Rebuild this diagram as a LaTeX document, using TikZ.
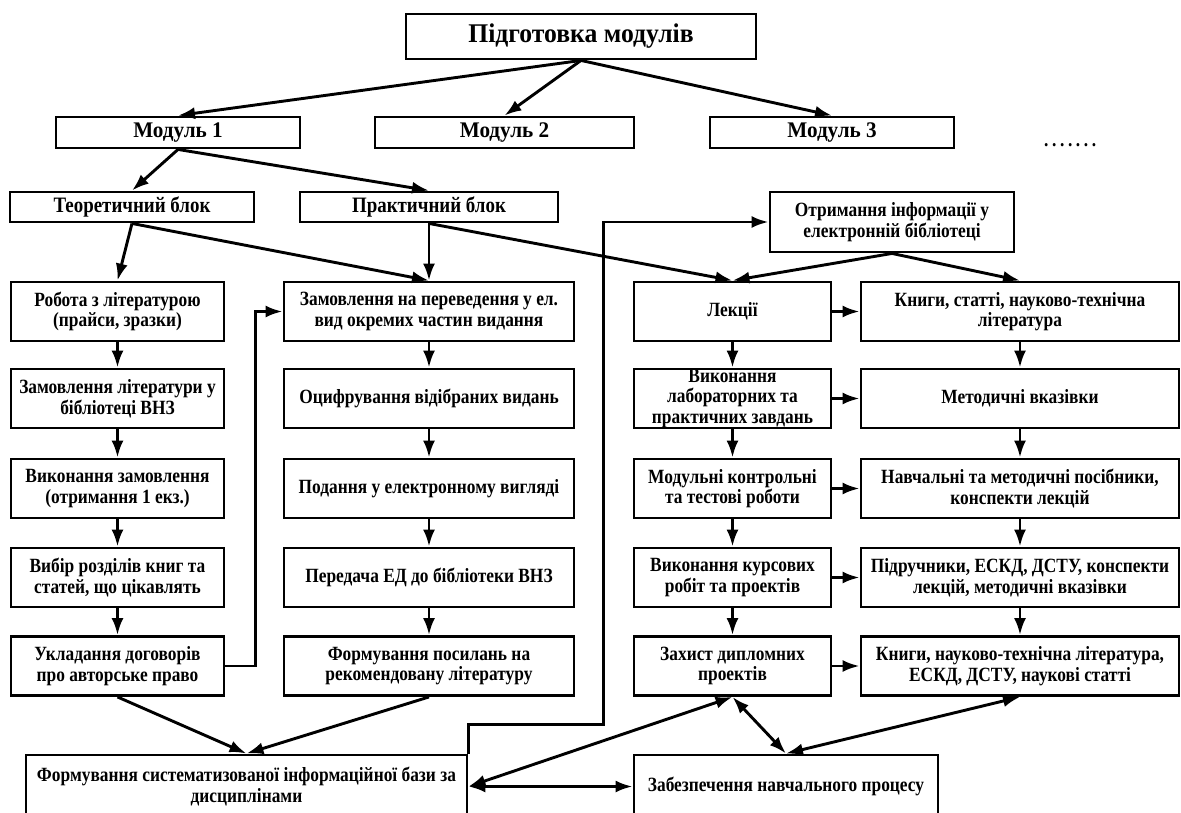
\documentclass[tikz,border=0pt]{standalone}
\usepackage{fontspec}
\setmainfont{Liberation Serif}
\newfontfamily\tallserif{Liberation Serif}[FakeStretch=0.86]
\newfontfamily\wideserif{Liberation Serif}[FakeStretch=0.95]
\usetikzlibrary{arrows.meta}
\usetikzlibrary{calc}

\def\thickness{2.9pt}
\tikzstyle{heavy}=[line width=\thickness]
\newcommand\boxfont{\tallserif\bfseries\fontsize{20.2pt}{20.5pt}\selectfont}
\newcommand\headfont{\wideserif\bfseries\fontsize{27pt}{30pt}\selectfont}
\newcommand\modfont{\wideserif\bfseries\fontsize{22.3pt}{24pt}\selectfont}
\newcommand\blockfont{\tallserif\bfseries\fontsize{22pt}{24pt}\selectfont}
\tikzset{box/.style={draw, heavy, align=center, inner sep=0pt,
    minimum height=59pt, font=\boxfont}}
\tikzset{arr/.style={heavy, -{Latex[length=17pt,width=12pt]}}}
\tikzset{darr/.style={heavy, {Latex[length=17pt,width=12pt]}-{Latex[length=17pt,width=12pt]}}}

\begin{document}
\begin{tikzpicture}[x=1pt,y=-1pt]

\def\xL{117.5} %% column centres
\def\xM{429}
\def\xR{732.5}
\def\xB{1020}
\def\yA{311.5} %% row centres
\def\yB{398.5}
\def\yC{488.5}
\def\yD{577.5}
\def\yE{666}

\path[use as bounding box] (0,0) rectangle (1181,813);

%% top levels
\node[box, minimum width=350pt, minimum height=45pt, font=\headfont] (prep) at (581,36.5) {Підготовка модулів};
\node[box, minimum width=244pt, minimum height=31pt, font=\modfont] (mod1) at (178,132.5) {Модуль 1};
\node[box, minimum width=259pt, minimum height=31pt, font=\modfont] (mod2) at (504.5,132.5) {Модуль 2};
\node[box, minimum width=244pt, minimum height=31pt, font=\modfont] (mod3) at (832,132.5) {Модуль 3};
\node[anchor=base west, inner sep=0pt, font=\boxfont] (more) at (1044,147) {.\kern3.6pt.\kern3.6pt.\kern3.6pt.\kern3.6pt.\kern3.6pt.\kern3.6pt.};

\node[box, minimum width=244pt, minimum height=30pt, font=\blockfont] (theor) at (132,207) {Теоретичний блок};
\node[box, minimum width=258pt, minimum height=30pt, font=\blockfont] (pract) at (429,207) {Практичний блок};
\node[box, minimum width=244pt, minimum height=60pt] (elib) at (892,222) {Отримання інформації у\\електронній бібліотеці};

%% left column
\node[box, minimum width=213pt] (lit1) at (\xL,\yA) {Робота з літературою\\(прайси, зразки)};
\node[box, minimum width=213pt] (lit2) at (\xL,\yB) {Замовлення літератури у\\бібліотеці ВНЗ};
\node[box, minimum width=213pt] (lit3) at (\xL,\yC) {Виконання замовлення\\(отримання 1 екз.)};
\node[box, minimum width=213pt] (lit4) at (\xL,\yD) {Вибір розділів книг та\\статей, що цікавлять};
\node[box, minimum width=213pt] (lit5) at (\xL,\yE) {Укладання договорів\\про авторське право};

%% middle column
\node[box, minimum width=290pt] (dig1) at (\xM,\yA) {Замовлення на переведення у ел.\\вид окремих частин видання};
\node[box, minimum width=290pt] (dig2) at (\xM,\yB) {Оцифрування відібраних видань};
\node[box, minimum width=290pt] (dig3) at (\xM,\yC) {Подання у електронному вигляді};
\node[box, minimum width=290pt] (dig4) at (\xM,\yD) {Передача ЕД до бібліотеки ВНЗ};
\node[box, minimum width=290pt] (dig5) at (\xM,\yE) {Формування посилань на\\рекомендовану літературу};

%% study forms
\node[box, minimum width=197pt] (stud1) at (\xR,\yA) {Лекції};
\node[box, minimum width=197pt] (stud2) at (\xR,\yB) {Виконання\\лабораторних та\\практичних завдань};
\node[box, minimum width=197pt] (stud3) at (\xR,\yC) {Модульні контрольні\\та тестові роботи};
\node[box, minimum width=197pt] (stud4) at (\xR,\yD) {Виконання курсових\\робіт та проектів};
\node[box, minimum width=197pt] (stud5) at (\xR,\yE) {Захист дипломних\\проектів};

%% sources
\node[box, minimum width=318pt] (src1) at (\xB,\yA) {Книги, статті, науково-технічна\\література};
\node[box, minimum width=318pt] (src2) at (\xB,\yB) {Методичні вказівки};
\node[box, minimum width=318pt] (src3) at (\xB,\yC) {Навчальні та методичні посібники,\\конспекти лекцій};
\node[box, minimum width=318pt] (src4) at (\xB,\yD) {Підручники, ЕСКД, ДСТУ, конспекти\\лекцій, методичні вказівки};
\node[box, minimum width=318pt] (src5) at (\xB,\yE) {Книги, науково-технічна література,\\ЕСКД, ДСТУ, наукові статті};

%% bottom
\node[box, minimum width=441pt, minimum height=63pt] (base) at (246.5,786.5) {Формування систематизованої інформаційної бази за\\дисциплінами};
\node[box, minimum width=304pt, minimum height=63pt] (supp) at (786,786.5) {Забезпечення навчального процесу};

%% connections
\draw[arr] (prep.south) to (mod1.north);
\draw[arr] (prep.south) to (mod2.north);
\draw[arr] (prep.south) to (mod3.north);
\draw[arr] (mod1.south) to (theor.north);
\draw[arr] (mod1.south) to (pract.north);
\draw[arr] (theor.south) to (lit1.north);
\draw[arr] (theor.south) to (dig1.north);
\draw[arr] (pract.south) to (dig1.north);
\draw[arr] (pract.south) to (stud1.north);
\draw[arr] (elib.south) to (stud1.north);
\draw[arr] (elib.south) to (src1.north);

\foreach \i/\j in {1/2,2/3,3/4,4/5} {
  \draw[arr] (lit\i.south) to (lit\j.north);
  \draw[arr] (dig\i.south) to (dig\j.north);
  \draw[arr] (stud\i.south) to (stud\j.north);
  \draw[arr] (src\i.south) to (src\j.north);
}
\foreach \i in {1,...,5}
  \draw[arr] (stud\i.east) to (src\i.west);

\draw[arr] (lit5.east) -- ++(30,0) |- (dig1.west);
\draw[arr] (base.north east) -- ++(0,-29) -| ($(elib.west)+(-165,0)$) -- (elib.west);

\draw[arr] (lit5.south) to (base.north);
\draw[arr] (dig5.south) to (base.north);
\draw[darr] (base.east) to (stud5.south);
\draw[darr] (base.east) to (supp.west);
\draw[darr] (stud5.south) to (supp.north);
\draw[darr] (src5.south) to (supp.north);

\end{tikzpicture}
\end{document}
